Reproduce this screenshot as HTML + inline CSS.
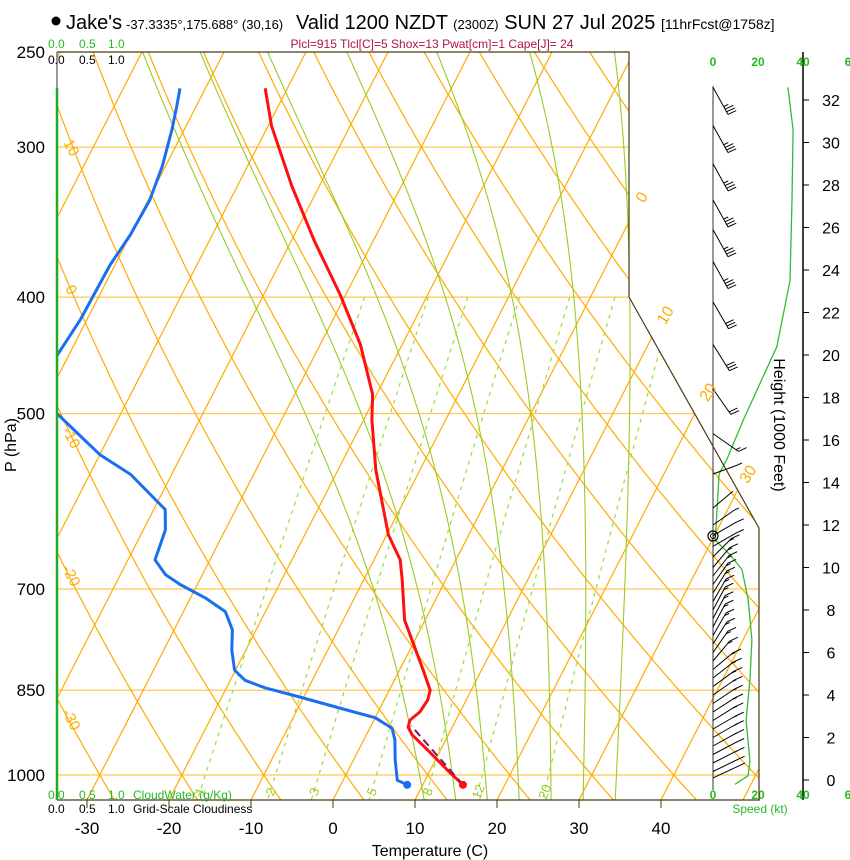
<!DOCTYPE html>
<html><head><meta charset="utf-8"><style>
html,body{margin:0;padding:0;background:#fff;}
svg{display:block;font-family:"Liberation Sans",sans-serif;}
</style></head><body>
<svg id="c" width="850" height="860" viewBox="0 0 850 860" xmlns="http://www.w3.org/2000/svg">
<defs><clipPath id="plotClip"><polygon points="57,52 629,52 629,297 759,528 759,800 57,800"/></clipPath></defs>
<g id="grid" clip-path="url(#plotClip)"></g>
<g id="prof" clip-path="url(#plotClip)"></g>
<g id="wind"></g>
<g id="axes"></g>
<g>
<circle cx="56" cy="21" r="4.5" fill="#000"/>
<text x="66" y="29" font-size="20">Jake's</text>
<text x="126" y="29" font-size="13">-37.3335°,175.688° (30,16)</text>
<text x="296" y="29" font-size="20">Valid 1200 NZDT <tspan font-size="13">(2300Z)</tspan> SUN 27 Jul 2025 <tspan font-size="14">[11hrFcst@1758z]</tspan></text>
<text x="432" y="48" font-size="12" fill="#b0124a" text-anchor="middle">Plcl=915 Tlcl[C]=5 Shox=13 Pwat[cm]=1 Cape[J]= 24</text>
</g>
<g font-size="12">
<text x="48" y="48" fill="#22bb22">0.0</text><text x="79" y="48" fill="#22bb22">0.5</text><text x="108" y="48" fill="#22bb22">1.0</text>
<text x="48" y="64" fill="#000">0.0</text><text x="79" y="64" fill="#000">0.5</text><text x="108" y="64" fill="#000">1.0</text>
<text x="48" y="799" fill="#22bb22">0.0</text><text x="79" y="799" fill="#22bb22">0.5</text><text x="108" y="799" fill="#22bb22">1.0</text>
<text x="133" y="799" fill="#22bb22">CloudWater (g/Kg)</text>
<text x="48" y="813" fill="#000">0.0</text><text x="79" y="813" fill="#000">0.5</text><text x="108" y="813" fill="#000">1.0</text>
<text x="133" y="813" fill="#000">Grid-Scale Cloudiness</text>
</g>
<text x="430" y="856" font-size="16" text-anchor="middle">Temperature (C)</text>
<text transform="translate(16,445) rotate(-90)" font-size="16" text-anchor="middle">P (hPa)</text>
<text transform="translate(774,425) rotate(90)" font-size="16" text-anchor="middle">Height (1000 Feet)</text>
<text x="760" y="813" font-size="12" fill="#22bb22" text-anchor="middle">Speed (kt)</text>
</svg>
<script>
const tempP = [1019,996,957,926,912,900,886,866,850,818,743,688,662,631,557,506,482,438,398,359,323,288,268];
const tempT = [14.9,12.6,8.8,5.6,4.6,4.4,5.1,5.3,5.0,2.9,-2.5,-5.3,-6.8,-9.8,-15.4,-19.0,-20.5,-25.1,-30.7,-37.2,-43.4,-49.6,-52.7];
const dewP = [1019,1010,972,935,914,896,882,861,846,834,818,787,757,731,712,694,681,662,643,625,601,562,541,518,500,469,447,418,376,355,332,311,290,277,268];
const dewT = [8.1,6.6,5.1,3.8,2.7,0,-4.2,-10.5,-15.3,-18.2,-20.1,-21.7,-22.9,-24.9,-28.2,-32.1,-34.5,-36.7,-37.0,-37.3,-38.6,-45.0,-50.0,-54.3,-57.8,-64.4,-61.4,-60.8,-60.6,-60.0,-59.8,-60.4,-61.5,-62.4,-63.1];
const parcelP = [1019,910];
const parcelT = [14.9,4.9];
const isobars = [300,400,500,700,850,1000];
const pressureTicks = [250,300,400,500,700,850,1000];
const tempTicks = [-30,-20,-10,0,10,20,30,40];
const isotherms = [-120,-110,-100,-90,-80,-70,-60,-50,-40,-30,-20,-10,0,10,20,30,40,50];
const isothermLabels = [0,10,20,30];
const dryThetas = [-40,-30,-20,-10,0,10,20,30,40,50,60,70,80,90,100,110,120,130,140,150];
const dryLabels = [10,0,-10,-20,-30];
const moistThetas = [9,13,17,21,25,29,33];
const mixRatios = [1,2,3,5,8,12,20];
const heightTicks = [0,2,4,6,8,10,12,14,16,18,20,22,24,26,28,30,32];
const speedH = [-0.2,0.2,0.9,2.8,4.7,6.6,8.5,9.9,10.6,11.3,11.8,14.4,15.1,16.9,20.4,23.5,27.3,30.6,32.6];
const speedKt = [9.8,15.6,16.4,14.7,16.4,17.3,15.6,12.9,7.6,0.9,1.3,2.7,6.2,13.3,28.4,34.2,35.1,35.6,33.3];
const barbH = [32.6,30.8,29.0,27.3,25.9,24.4,22.5,20.5,18.4,16.3,14.4,12.8,12.0,11.5,11.0,10.5,10.0,9.6,9.2,8.8,8.4,8.0,7.6,7.2,6.8,6.4,6.0,5.6,5.2,4.8,4.4,4.0,3.6,3.2,2.8,2.4,2.0,1.6,1.2,0.8,0.4,0.1];
const barbDir = [61,61,61,61,61,61,60,58,55,35,-20,-40,-35,-30,-30,-45,-50,-52,-55,-58,-60,-62,-62,-62,-60,-58,-55,-50,-40,-38,-36,-35,-34,-33,-32,-30,-30,-29,-28,-27,-26,-25];
const barbKt = [35,35,35,35,35,34,32,28,20,15,5,2,6,10,12,14,15,15,16,16,16,17,17,17,17,16,16,16,16,15,15,15,15,15,15,15,16,16,16,16,15,12];

function yP(p){return 775+521.5*Math.log(p/1000);}
function xT(T,p){return 333+8.2*T+0.512*(800-yP(p));}
function yH(h){return 780-21.25*h;}
function xKt(k){return 713+2.25*k;}
const NS="http://www.w3.org/2000/svg";
function mk(tag,attrs,parent){const e=document.createElementNS(NS,tag);for(const k in attrs)e.setAttribute(k,attrs[k]);parent.appendChild(e);return e;}
function pathD(pts){return pts.map((q,i)=>(i?'L':'M')+q[0].toFixed(1)+','+q[1].toFixed(1)).join('');}
const grid=document.getElementById('grid'),prof=document.getElementById('prof'),wind=document.getElementById('wind'),axes=document.getElementById('axes');
const pLevels=[];for(let p=240;p<=1060;p+=5)pLevels.push(p);

isobars.forEach(p=>{const l=mk('line',{x1:57,x2:760,y1:yP(p),y2:yP(p),stroke:'#ffc850','stroke-width':1.2},grid);

});
isotherms.forEach(T=>{const l=mk('line',{x1:xT(T,1050),y1:yP(1050),x2:xT(T,240),y2:yP(240),stroke:'#ffab00','stroke-width':1.2},grid);

});
dryThetas.forEach(th=>{const pts=pLevels.map(p=>[xT((th+273.15)*Math.pow(p/1000,0.286)-273.15,p),yP(p)]);
const e=mk('path',{d:pathD(pts),fill:'none',stroke:'#ffab00','stroke-width':1.2},grid);

});
function rs(T,p){const es=6.112*Math.exp(17.67*(T-273.15)/(T-29.65));return 0.622*es/(p-es);}
function dTdp(T,p){const Rd=287,cp=1005,Lv=2.5e6,r=rs(T,p);return (Rd*T+Lv*r)/(cp+Lv*Lv*r*0.622/(Rd*T*T))/p;}
moistThetas.forEach(tw=>{let pts=[];let T=tw+273.15;
for(let p=1000;p>=240;p-=2){pts.unshift([xT(T-273.15,p),yP(p)]);T-=dTdp(T,p)*2;}
T=tw+273.15;for(let p=1000;p<=1060;p+=2){pts.push([xT(T-273.15,p),yP(p)]);T+=dTdp(T,p)*2;}
const e=mk('path',{d:pathD(pts),fill:'none',stroke:'#99cc22','stroke-width':1.1},grid);

});
function tdFromW(w,p){const e=w*p/(622+w);const a=Math.log(e/6.112);return 243.5*a/(17.67-a);}
mixRatios.forEach(w=>{const pts=[];for(let p=400;p<=1050;p+=10)pts.push([xT(tdFromW(w,p),p),yP(p)]);
const e=mk('path',{d:pathD(pts),fill:'none',stroke:'#99dd33','stroke-width':1.2,'stroke-dasharray':'4,5'},grid);


const lp=1036;const t=mk('text',{x:0,y:0,'font-size':13,fill:'#99cc22','text-anchor':'middle',transform:'translate('+(xT(tdFromW(w,lp),lp)+5).toFixed(1)+','+yP(lp).toFixed(1)+') rotate(-68)'},axes);
t.textContent=w;

});
const isoLabelY=[200,318,395,477];
isothermLabels.forEach((T,i)=>{const y=isoLabelY[i];const x=333+8.2*T+0.512*(800-y)+(i?8:6);
const t=mk('text',{'font-size':16,fill:'#ffab00','text-anchor':'middle',transform:'translate('+x.toFixed(1)+','+y+') rotate(-58)'},axes);
t.textContent=T;

});
const dryLabelY=[150,292,440,578,722];
dryLabels.forEach((v,i)=>{const t=mk('text',{'font-size':15,fill:'#ffab00','text-anchor':'middle',transform:'translate(67,'+dryLabelY[i]+') rotate(62)'},axes);
t.textContent=v;

});

function prPath(P,T,attrs,name){const pts=P.map((p,i)=>[xT(T[i],p),yP(p)]);const a=Object.assign({d:pathD(pts),fill:'none'},attrs);const e=mk('path',a,prof);

}
prPath(dewP,dewT,{stroke:'#1a6ff0','stroke-width':3,'stroke-linejoin':'round'},'dewpoint-line');
prPath(tempP,tempT,{stroke:'#ff1010','stroke-width':3,'stroke-linejoin':'round'},'temperature-line');
prPath(parcelP,parcelT,{stroke:'#7a1a6a','stroke-width':2,'stroke-dasharray':'8,5'},'parcel-line');
let d1=mk('circle',{cx:xT(tempT[0],tempP[0]),cy:yP(tempP[0]),r:4,fill:'#ff1010'},axes);


let d2=mk('circle',{cx:xT(dewT[0],dewP[0]),cy:yP(dewP[0]),r:4,fill:'#1a6ff0'},axes);



const fr=mk('path',{d:'M57,800L760,800M57,52L629,52L629,297L759,528L759,800',fill:'none',stroke:'#4a3a10','stroke-width':1.2},axes);


mk('line',{x1:57,y1:52,x2:57,y2:88,stroke:'#555','stroke-width':1.2},axes);
const la=mk('line',{x1:57,y1:88,x2:57,y2:800,stroke:'#22aa22','stroke-width':2.5},axes);


pressureTicks.forEach(p=>{const t=mk('text',{x:45,y:yP(p)+6,'font-size':17,'text-anchor':'end'},axes);t.textContent=p;

});
tempTicks.forEach(T=>{const x=333+8.2*T;mk('line',{x1:x,x2:x,y1:800,y2:808,stroke:'#4a3a10'},axes);
const t=mk('text',{x:x,y:834,'font-size':17,'text-anchor':'middle'},axes);t.textContent=T;

});

mk('line',{x1:713,y1:86,x2:713,y2:790,stroke:'#333','stroke-width':1},wind);
const ha=mk('line',{x1:803,y1:52,x2:803,y2:800,stroke:'#000','stroke-width':1.5},wind);


heightTicks.forEach(h=>{const y=yH(h);mk('line',{x1:803,x2:809,y1:y,y2:y,stroke:'#000'},wind);
const t=mk('text',{x:831,y:y+6,'font-size':16,'text-anchor':'middle'},wind);t.textContent=h;

});
[0,20,40,60].forEach(k=>{[66,799].forEach(y=>{const t=mk('text',{x:xKt(k),y:y,'font-size':12,'font-weight':'bold',fill:'#22bb22','text-anchor':'middle'},wind);t.textContent=k===60?'6':k;

});});
const sp=mk('path',{d:pathD(speedH.map((h,i)=>[xKt(speedKt[i]),yH(h)])),fill:'none',stroke:'#33bb33','stroke-width':1.3},wind);


barbH.forEach((h,i)=>{const y0=yH(h),a=barbDir[i]*Math.PI/180,L=i<10?31:26;
const ux=Math.cos(a),uy=Math.sin(a);const x1=713+ux*L,y1=y0+uy*L;
let d='M713,'+y0.toFixed(1)+'L'+x1.toFixed(1)+','+y1.toFixed(1);
let k=barbKt[i],pos=0;const fa=-25*Math.PI/180;
while(k>=7.5){const bx=x1-ux*pos,by=y1-uy*pos;d+='M'+bx.toFixed(1)+','+by.toFixed(1)+'l'+(Math.cos(fa)*9).toFixed(1)+','+(Math.sin(fa)*9).toFixed(1);k-=10;pos+=3;}
if(k>=2.5){const bx=x1-ux*pos,by=y1-uy*pos;d+='M'+bx.toFixed(1)+','+by.toFixed(1)+'l'+(Math.cos(fa)*5).toFixed(1)+','+(Math.sin(fa)*5).toFixed(1);}
const b=mk('path',{d:d,fill:'none',stroke:'#000','stroke-width':1},wind);

});
const c1=mk('circle',{cx:713,cy:536,r:5,fill:'none',stroke:'#000','stroke-width':1.2},wind);


mk('circle',{cx:713,cy:536,r:2.5,fill:'none',stroke:'#000','stroke-width':1},wind);
</script>
</body></html>
